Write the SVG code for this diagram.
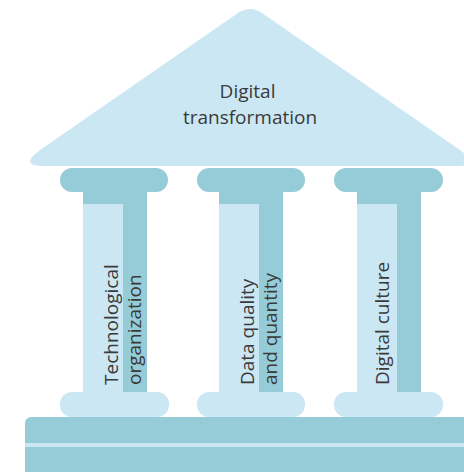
<svg xmlns="http://www.w3.org/2000/svg" width="464" height="472" viewBox="0 0 464 472">
  <style>
    .light { fill: #cbe7f3; }
    .dark { fill: #96ccd7; }
    .label { font-family: "Open Sans", "Noto Sans", "Liberation Sans", sans-serif; font-size: 19px; fill: #3a3a3a; }
  </style>
  <rect width="464" height="472" fill="#ffffff"/>

  <!-- Roof -->
  <g id="roof">
    <path class="light" d="M 236.9,13.7 Q 250,4.5 263.1,13.7 L 461,150.7 Q 481,166 456,166 L 44,166 Q 19,166 39,150.7 Z"/>
    <text class="label" text-anchor="middle">
      <tspan x="250" y="98">Digital</tspan>
      <tspan x="250" y="124">transformation</tspan>
    </text>
  </g>

  <!-- Pillar 1 -->
  <g id="pillar-technological">
    <rect class="dark" x="60" y="168" width="108" height="24" rx="12"/>
    <rect class="dark" x="83" y="190" width="64" height="203"/>
    <rect class="light" x="83" y="204" width="40" height="189"/>
    <rect class="light" x="60" y="392" width="109" height="25" rx="12"/>
    <text class="label" transform="translate(118,385) rotate(-90)">Technological</text>
    <text class="label" transform="translate(141,385) rotate(-90)">organization</text>
  </g>

  <!-- Pillar 2 -->
  <g id="pillar-data">
    <rect class="dark" x="197" y="168" width="108" height="24" rx="12"/>
    <rect class="dark" x="219" y="190" width="64" height="203"/>
    <rect class="light" x="219" y="204" width="40" height="189"/>
    <rect class="light" x="197" y="392" width="108" height="25" rx="12"/>
    <text class="label" transform="translate(254,385) rotate(-90)">Data quality</text>
    <text class="label" transform="translate(277,385) rotate(-90)">and quantity</text>
  </g>

  <!-- Pillar 3 -->
  <g id="pillar-culture">
    <rect class="dark" x="334" y="168" width="109" height="24" rx="12"/>
    <rect class="dark" x="357" y="190" width="64" height="203"/>
    <rect class="light" x="357" y="204" width="40" height="189"/>
    <rect class="light" x="334" y="392" width="109" height="25" rx="12"/>
    <text class="label" transform="translate(389,385) rotate(-90)">Digital culture</text>
  </g>

  <!-- Foundation -->
  <g id="foundation">
    <rect class="dark" x="25" y="417" width="450" height="70" rx="6"/>
    <rect class="light" x="25" y="443" width="450" height="4"/>
  </g>
</svg>
